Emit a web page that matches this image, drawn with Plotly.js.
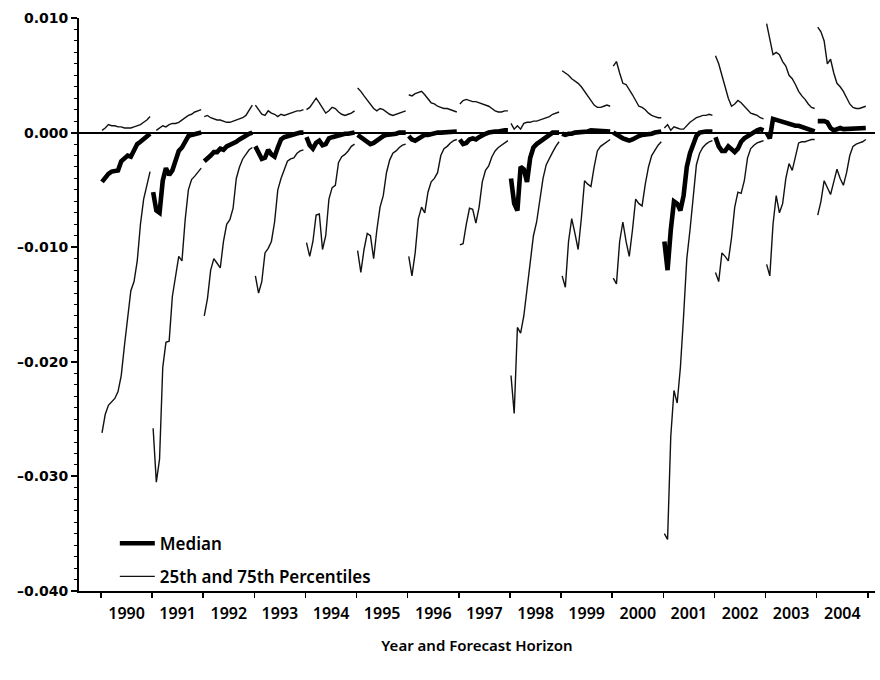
<!DOCTYPE html>
<html>
<head>
<meta charset="utf-8">
<script src="https://cdn.plot.ly/plotly-3.0.1.min.js"></script>
<style>html,body{margin:0;padding:0;background:#fff;}#chart{width:880px;height:680px;}</style>
</head>
<body>
<div id="chart"></div>
<script>
// Target years (x-axis categories)
const years = [1990,1991,1992,1993,1994,1995,1996,1997,1998,1999,2000,2001,2002,2003,2004];
const yearLabels = years.map(String);

// Y tick labels
const yTickVals = [0.01, 0, -0.01, -0.02, -0.03, -0.04];
const yTickText = ['0.010', '0.000', '\u20130.010', '\u20130.020', '\u20130.030', '\u20130.040'];

// Median forecast (16 horizons per target year, earliest first)
const medianByYear = [
  [-0.0043,-0.0039,-0.0036,-0.0034,-0.0034,-0.0033,-0.0025,-0.0022,-0.0020,-0.0021,-0.0015,-0.0010,-0.0008,-0.0006,-0.0003,-0.0001],
  [-0.0052,-0.0068,-0.0070,-0.0042,-0.0031,-0.0037,-0.0033,-0.0024,-0.0016,-0.0013,-0.0007,-0.0003,-0.0002,-0.0001,0.0000,0.0000],
  [-0.0025,-0.0023,-0.0020,-0.0017,-0.0017,-0.0014,-0.0015,-0.0012,-0.0011,-0.0009,-0.0008,-0.0006,-0.0004,-0.0003,-0.0001,0.0000],
  [-0.0012,-0.0018,-0.0023,-0.0022,-0.0015,-0.0019,-0.0021,-0.0013,-0.0006,-0.0004,-0.0003,-0.0002,-0.0001,0.0000,0.0000,0.0000],
  [-0.0004,-0.0011,-0.0014,-0.0009,-0.0007,-0.0011,-0.0010,-0.0005,-0.0004,-0.0003,-0.0002,-0.0002,-0.0001,-0.0001,0.0000,0.0000],
  [-0.0002,-0.0004,-0.0006,-0.0008,-0.0010,-0.0009,-0.0007,-0.0004,-0.0003,-0.0002,-0.0002,-0.0001,-0.0001,0.0000,0.0000,0.0000],
  [-0.0003,-0.0006,-0.0007,-0.0005,-0.0003,-0.0002,-0.0002,-0.0001,-0.0001,0.0000,0.0000,0.0000,0.0001,0.0001,0.0001,0.0001],
  [-0.0006,-0.0010,-0.0009,-0.0006,-0.0005,-0.0006,-0.0004,-0.0002,-0.0001,0.0000,0.0001,0.0001,0.0001,0.0002,0.0002,0.0002],
  [-0.0040,-0.0062,-0.0068,-0.0030,-0.0032,-0.0043,-0.0022,-0.0013,-0.0010,-0.0008,-0.0005,-0.0003,-0.0001,0.0000,0.0000,0.0000],
  [-0.0001,-0.0002,-0.0001,-0.0001,0.0000,0.0000,0.0001,0.0001,0.0001,0.0002,0.0002,0.0002,0.0002,0.0002,0.0001,0.0001],
  [0.0000,-0.0002,-0.0003,-0.0005,-0.0006,-0.0007,-0.0006,-0.0004,-0.0003,-0.0002,-0.0002,-0.0001,-0.0001,0.0000,0.0000,0.0001],
  [-0.0095,-0.0120,-0.0085,-0.0060,-0.0062,-0.0068,-0.0055,-0.0030,-0.0018,-0.0010,-0.0003,0.0000,0.0001,0.0001,0.0001,0.0001],
  [-0.0004,-0.0012,-0.0016,-0.0016,-0.0012,-0.0014,-0.0017,-0.0014,-0.0008,-0.0005,-0.0003,-0.0001,0.0001,0.0002,0.0003,0.0002],
  [0.0000,-0.0005,0.0012,0.0011,0.0010,0.0009,0.0009,0.0008,0.0007,0.0006,0.0006,0.0005,0.0005,0.0004,0.0002,0.0001],
  [0.0010,0.0010,0.0010,0.0009,0.0004,0.0002,0.0003,0.0004,0.0003,0.0003,0.0004,0.0003,0.0003,0.0004,0.0004,0.0004]
];

// 75th percentile
const p75ByYear = [
  [0.0002,0.0004,0.0007,0.0006,0.0006,0.0005,0.0005,0.0004,0.0004,0.0004,0.0005,0.0006,0.0007,0.0009,0.0011,0.0014],
  [null,0.0002,0.0004,0.0006,0.0005,0.0007,0.0008,0.0008,0.0009,0.0011,0.0013,0.0015,0.0016,0.0018,0.0019,0.0020],
  [0.0014,0.0015,0.0013,0.0012,0.0011,0.0011,0.0010,0.0009,0.0009,0.0010,0.0011,0.0012,0.0013,0.0015,0.0019,0.0024],
  [0.0024,0.0020,0.0016,0.0015,0.0019,0.0017,0.0016,0.0014,0.0016,0.0015,0.0016,0.0017,0.0018,0.0019,0.0019,0.0020],
  [0.0020,0.0022,0.0026,0.0030,0.0026,0.0022,0.0017,0.0019,0.0022,0.0021,0.0018,0.0016,0.0015,0.0016,0.0017,0.0019],
  [0.0039,0.0036,0.0032,0.0028,0.0024,0.0021,0.0019,0.0021,0.0020,0.0018,0.0016,0.0015,0.0016,0.0017,0.0018,0.0019],
  [0.0033,0.0032,0.0034,0.0035,0.0036,0.0033,0.0029,0.0026,0.0025,0.0023,0.0022,0.0021,0.0021,0.0020,0.0019,0.0018],
  [0.0025,0.0028,0.0029,0.0028,0.0027,0.0027,0.0026,0.0025,0.0024,0.0023,0.0021,0.0019,0.0018,0.0018,0.0019,0.0019],
  [0.0008,0.0003,0.0006,0.0003,0.0008,0.0009,0.0009,0.0010,0.0010,0.0011,0.0012,0.0013,0.0014,0.0016,0.0017,0.0018],
  [0.0054,0.0052,0.0050,0.0047,0.0045,0.0043,0.0040,0.0036,0.0031,0.0027,0.0024,0.0022,0.0022,0.0023,0.0024,0.0023],
  [0.0058,0.0062,0.0052,0.0043,0.0042,0.0038,0.0033,0.0028,0.0023,0.0022,0.0020,0.0017,0.0015,0.0014,0.0013,0.0013],
  [0.0004,0.0007,0.0002,0.0005,0.0004,0.0003,0.0003,0.0006,0.0009,0.0011,0.0013,0.0014,0.0015,0.0015,0.0016,0.0015],
  [0.0067,0.0060,0.0050,0.0040,0.0030,0.0023,0.0025,0.0028,0.0026,0.0023,0.0020,0.0017,0.0016,0.0015,0.0013,0.0012],
  [0.0095,0.0080,0.0068,0.0070,0.0068,0.0062,0.0058,0.0050,0.0047,0.0042,0.0036,0.0032,0.0029,0.0025,0.0022,0.0021],
  [0.0092,0.0088,0.0080,0.0060,0.0064,0.0052,0.0043,0.0040,0.0036,0.0031,0.0025,0.0022,0.0021,0.0021,0.0022,0.0023]
];

// 25th percentile
const p25ByYear = [
  [-0.0262,-0.0246,-0.0238,-0.0235,-0.0232,-0.0226,-0.0212,-0.0186,-0.0163,-0.0138,-0.0130,-0.0112,-0.0080,-0.0058,-0.0046,-0.0034],
  [-0.0258,-0.0305,-0.0285,-0.0205,-0.0183,-0.0182,-0.0143,-0.0125,-0.0108,-0.0112,-0.0076,-0.0050,-0.0041,-0.0038,-0.0034,-0.0031],
  [-0.0160,-0.0145,-0.0120,-0.0110,-0.0114,-0.0118,-0.0095,-0.0080,-0.0076,-0.0066,-0.0040,-0.0030,-0.0023,-0.0019,-0.0015,-0.0013],
  [-0.0125,-0.0140,-0.0130,-0.0105,-0.0101,-0.0095,-0.0078,-0.0050,-0.0040,-0.0033,-0.0025,-0.0023,-0.0022,-0.0018,-0.0016,-0.0015],
  [-0.0096,-0.0108,-0.0095,-0.0072,-0.0071,-0.0102,-0.0090,-0.0058,-0.0048,-0.0046,-0.0026,-0.0021,-0.0019,-0.0016,-0.0012,-0.0010],
  [-0.0103,-0.0122,-0.0102,-0.0088,-0.0090,-0.0110,-0.0085,-0.0065,-0.0055,-0.0035,-0.0024,-0.0018,-0.0016,-0.0013,-0.0011,-0.0010],
  [-0.0108,-0.0125,-0.0105,-0.0075,-0.0065,-0.0070,-0.0052,-0.0043,-0.0040,-0.0035,-0.0020,-0.0014,-0.0012,-0.0009,-0.0007,-0.0006],
  [-0.0098,-0.0097,-0.0080,-0.0066,-0.0067,-0.0079,-0.0065,-0.0043,-0.0033,-0.0029,-0.0021,-0.0016,-0.0013,-0.0011,-0.0009,-0.0007],
  [-0.0212,-0.0245,-0.0170,-0.0175,-0.0160,-0.0135,-0.0110,-0.0090,-0.0078,-0.0060,-0.0040,-0.0028,-0.0022,-0.0017,-0.0012,-0.0008],
  [-0.0125,-0.0135,-0.0095,-0.0075,-0.0088,-0.0102,-0.0075,-0.0042,-0.0045,-0.0047,-0.0030,-0.0016,-0.0012,-0.0010,-0.0008,-0.0006],
  [-0.0127,-0.0132,-0.0095,-0.0078,-0.0095,-0.0108,-0.0085,-0.0058,-0.0062,-0.0064,-0.0045,-0.0030,-0.0020,-0.0015,-0.0011,-0.0008],
  [-0.0350,-0.0355,-0.0265,-0.0225,-0.0236,-0.0205,-0.0160,-0.0110,-0.0085,-0.0055,-0.0028,-0.0018,-0.0013,-0.0010,-0.0008,-0.0007],
  [-0.0122,-0.0130,-0.0105,-0.0108,-0.0112,-0.0092,-0.0065,-0.0052,-0.0053,-0.0042,-0.0022,-0.0014,-0.0011,-0.0009,-0.0008,-0.0007],
  [-0.0115,-0.0125,-0.0080,-0.0055,-0.0070,-0.0062,-0.0040,-0.0027,-0.0033,-0.0020,-0.0009,-0.0008,-0.0008,-0.0007,-0.0006,-0.0006],
  [-0.0072,-0.0060,-0.0042,-0.0048,-0.0054,-0.0043,-0.0032,-0.0040,-0.0046,-0.0035,-0.0020,-0.0012,-0.0010,-0.0009,-0.0008,-0.0006]
];

// Horizons within each target year map across that year's slot on the axis
function buildSeries(byYear) {
  const xs = [], ys = [];
  byYear.forEach((vals, k) => {
    const n = vals.length;
    vals.forEach((v, i) => {
      xs.push(years[k] - 0.48 + i * 0.94 / (n - 1));
      ys.push(v);
    });
    xs.push(null); ys.push(null);
  });
  return {x: xs, y: ys};
}

const med = buildSeries(medianByYear);
const lo = buildSeries(p25ByYear);
const hi = buildSeries(p75ByYear);

const thin = {color: '#111', width: 1.4};
const traces = [
  {type: 'scatter', mode: 'lines', name: 'Median', legendgroup: 'med',
   x: med.x, y: med.y, connectgaps: false, line: {color: '#000', width: 4.6}},
  {type: 'scatter', mode: 'lines', name: '25th and 75th Percentiles', legendgroup: 'pct',
   x: lo.x, y: lo.y, connectgaps: false, line: thin},
  {type: 'scatter', mode: 'lines', name: '75th', legendgroup: 'pct', showlegend: false,
   x: hi.x, y: hi.y, connectgaps: false, line: thin}
];

const layout = {
  width: 880, height: 680,
  margin: {l: 79, r: 5, t: 18, b: 89},
  paper_bgcolor: '#fff', plot_bgcolor: '#fff',
  showlegend: true,
  legend: {
    x: 0.045, y: 0.114, xanchor: 'left', yanchor: 'top',
    bgcolor: 'rgba(0,0,0,0)', borderwidth: 0,
    traceorder: 'grouped', tracegroupgap: 8, itemwidth: 35,
    font: {family: 'Noto Sans', size: 17, weight: 600, color: '#000'}
  },
  xaxis: {
    range: [1989.07, 2004.64],
    tickmode: 'array', tickvals: years, ticktext: yearLabels,
    ticks: '', showgrid: false, zeroline: false,
    showline: true, linecolor: '#000', linewidth: 2,
    ticklabelstandoff: 7,
    tickfont: {family: 'Noto Sans', size: 16, weight: 600, color: '#000'},
    minor: {tickmode: 'linear', tick0: 1989.5, dtick: 1, ticks: 'outside', ticklen: 5, tickwidth: 1.5, tickcolor: '#000', showgrid: false},
    title: {text: 'Year and Forecast Horizon', standoff: 17,
            font: {family: 'Noto Sans', size: 15, weight: 600, color: '#000'}}
  },
  yaxis: {
    range: [-0.04, 0.01],
    tickmode: 'array', tickvals: yTickVals, ticktext: yTickText,
    ticks: 'outside', ticklen: 6, tickwidth: 2, tickcolor: '#000',
    showgrid: false,
    showline: true, linecolor: '#000', linewidth: 2,
    zeroline: true, zerolinecolor: '#000', zerolinewidth: 2,
    tickfont: {family: 'DejaVu Sans', size: 14, weight: 'bold', color: '#000'},
    minor: {tickmode: 'linear', tick0: 0, dtick: 0.001, ticks: 'outside', ticklen: 3, tickwidth: 1, tickcolor: '#000', showgrid: false}
  }
};

Plotly.newPlot('chart', traces, layout, {displayModeBar: false, staticPlot: true});
</script>
</body>
</html>
